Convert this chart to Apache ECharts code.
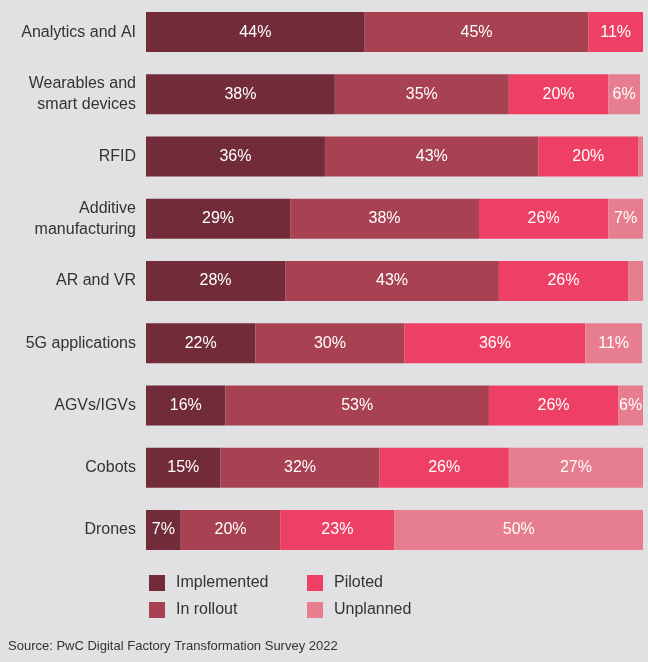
<!DOCTYPE html>
<html><head><meta charset="utf-8">
<script src="https://cdn.jsdelivr.net/npm/echarts@6/dist/echarts.min.js"></script>
<style>html,body{margin:0;padding:0;background:#e1e1e3}#c{width:648px;height:662px}</style>
</head><body><div id="c"></div>
<script>
const categories = ["Analytics and AI","Wearables and\nsmart devices","RFID","Additive\nmanufacturing","AR and VR","5G applications","AGVs/IGVs","Cobots","Drones"];
const implemented = [44,38,36,29,28,22,16,15,7];
const inRollout = [45,35,43,38,43,30,53,32,20];
const piloted = [11,20,20,26,26,36.4,26,26,23];
const unplanned = [0,6.4,1,7,3,11.4,6,27,50];
const names = ["Implemented","In rollout","Piloted","Unplanned"];
const colors = ["#722c39","#a84253","#ee4065","#e67e8f"];
const vals = [implemented,inRollout,piloted,unplanned];
const chart = echarts.init(document.getElementById('c'));
chart.setOption({
  backgroundColor:'#e1e1e3',
  animation:false,
  grid:{left:146,right:5,top:1,bottom:101},
  xAxis:{type:'value',min:0,max:100,show:false},
  yAxis:{type:'category',inverse:true,data:categories,axisLine:{show:false},axisTick:{show:false},
    axisLabel:{fontSize:16,color:'#333',lineHeight:21,margin:10,fontFamily:'Liberation Sans'}},
  legend:[
    {orient:'vertical',left:144,top:570,itemWidth:16,itemHeight:16,itemGap:11,data:names.slice(0,2),textStyle:{fontSize:16,color:'#333',padding:[0,0,0,6]},icon:'rect'},
    {orient:'vertical',left:302,top:570,itemWidth:16,itemHeight:16,itemGap:11,data:names.slice(2),textStyle:{fontSize:16,color:'#333',padding:[0,0,0,6]},icon:'rect'}
  ],
  graphic:[{type:'text',left:8,top:640,style:{text:'Source: PwC Digital Factory Transformation Survey 2022',fontSize:13,fill:'#333',fontFamily:'Liberation Sans'}}],
  series:names.map((n,i)=>({
    name:n,type:'bar',stack:'s',barWidth:40,data:vals[i],
    itemStyle:{color:colors[i]},
    label:{show:true,color:'#fff',fontSize:16,fontFamily:'Liberation Sans',
      formatter:p=>p.value>=5?Math.round(p.value)+'%':''}
  }))
});
</script></body></html>
